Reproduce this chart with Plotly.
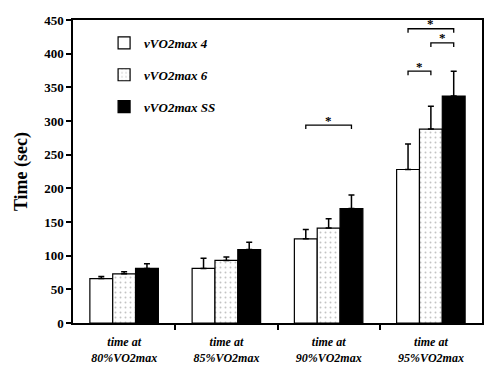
import plotly.graph_objects as go

categories = ["time at<br>80%VO2max", "time at<br>85%VO2max", "time at<br>90%VO2max", "time at<br>95%VO2max"]
series_names = ["vVO2max 4", "vVO2max 6", "vVO2max SS"]
v4 = [66, 81, 125, 228]
v6 = [73, 93, 141, 288]
vss = [81, 109, 170, 337]
err4 = [3, 15, 14, 38]
err6 = [3, 5, 14, 34]
errss = [7, 11, 20, 37]
y_ticks = [0, 50, 100, 150, 200, 250, 300, 350, 400, 450]
# significance brackets: (group, from series idx, to series idx, level)
sig = [(2, 0, 2, 294), (3, 0, 1, 374), (3, 1, 2, 416), (3, 0, 2, 437)]

SERIF = "Liberation Serif, Times New Roman, serif"
bargap = 0.33
bw = (1 - bargap) / 3
x = list(range(len(categories)))

fig = go.Figure()
styles = [
    dict(color="white", pattern=None),
    dict(color="white", pattern=dict(shape=".", fgcolor="#888", bgcolor="white", size=5, solidity=0.12)),
    dict(color="black", pattern=None),
]
for i, (name, vals, errs) in enumerate(zip(series_names, [v4, v6, vss], [err4, err6, errss])):
    marker = dict(color=styles[i]["color"], line=dict(color="black", width=1.2))
    if styles[i]["pattern"]:
        marker["pattern"] = styles[i]["pattern"]
    fig.add_trace(go.Bar(
        x=x, y=vals, name=name, marker=marker, legendgroup=name,
        error_y=dict(type="data", symmetric=False, array=errs, arrayminus=[0] * len(errs),
                     color="black", thickness=1.5, width=3),
    ))

for g, a, b, lvl in sig:
    x0 = g + (a - 1) * bw
    x1 = g + (b - 1) * bw
    fig.add_shape(type="path",
                  path=f"M {x0} {lvl-6} L {x0} {lvl} L {x1} {lvl} L {x1} {lvl-6}",
                  line=dict(color="black", width=1.3), xref="x", yref="y")
    fig.add_annotation(x=(x0 + x1) / 2, y=lvl, text="*", showarrow=False, yshift=5,
                       font=dict(family=SERIF, size=13, color="black", weight="bold"))

fig.update_layout(
    width=491, height=366,
    margin=dict(l=65, r=17, t=12, b=51, autoexpand=False),
    paper_bgcolor="white", plot_bgcolor="white",
    barmode="group", bargap=bargap, bargroupgap=0,
    showlegend=True,
    legend=dict(x=0.076, y=0.974, xanchor="left", yanchor="top", bgcolor="rgba(0,0,0,0)",
                traceorder="grouped", tracegroupgap=12,
                font=dict(family=SERIF, size=13, color="black", style="italic", weight="bold")),
    font=dict(family=SERIF, color="black"),
)
fig.update_xaxes(
    range=[-0.5, 3.5], tickvals=x, ticktext=categories, ticks="", showline=True, linecolor="black",
    linewidth=1.5, mirror=True, showgrid=False, zeroline=False, automargin=False,
    ticklabelstandoff=7,
    tickfont=dict(family=SERIF, size=12, color="black", style="italic", weight="bold"),
    minor=dict(tickvals=[0.5, 1.5, 2.5], ticks="outside", ticklen=5, tickcolor="black", tickwidth=1.5),
)
fig.update_yaxes(
    range=[0, 450], tickvals=y_ticks, ticks="outside", ticklen=5, tickwidth=1.5, tickcolor="black",
    showline=True, linecolor="black", linewidth=1.5, mirror=True, showgrid=False, zeroline=False,
    automargin=False,
    tickfont=dict(family=SERIF, size=13, color="black", weight="bold"),
    title=dict(text="Time (sec)", font=dict(family=SERIF, size=18, color="black", weight="bold"), standoff=12),
)
fig.write_html("out.html")
